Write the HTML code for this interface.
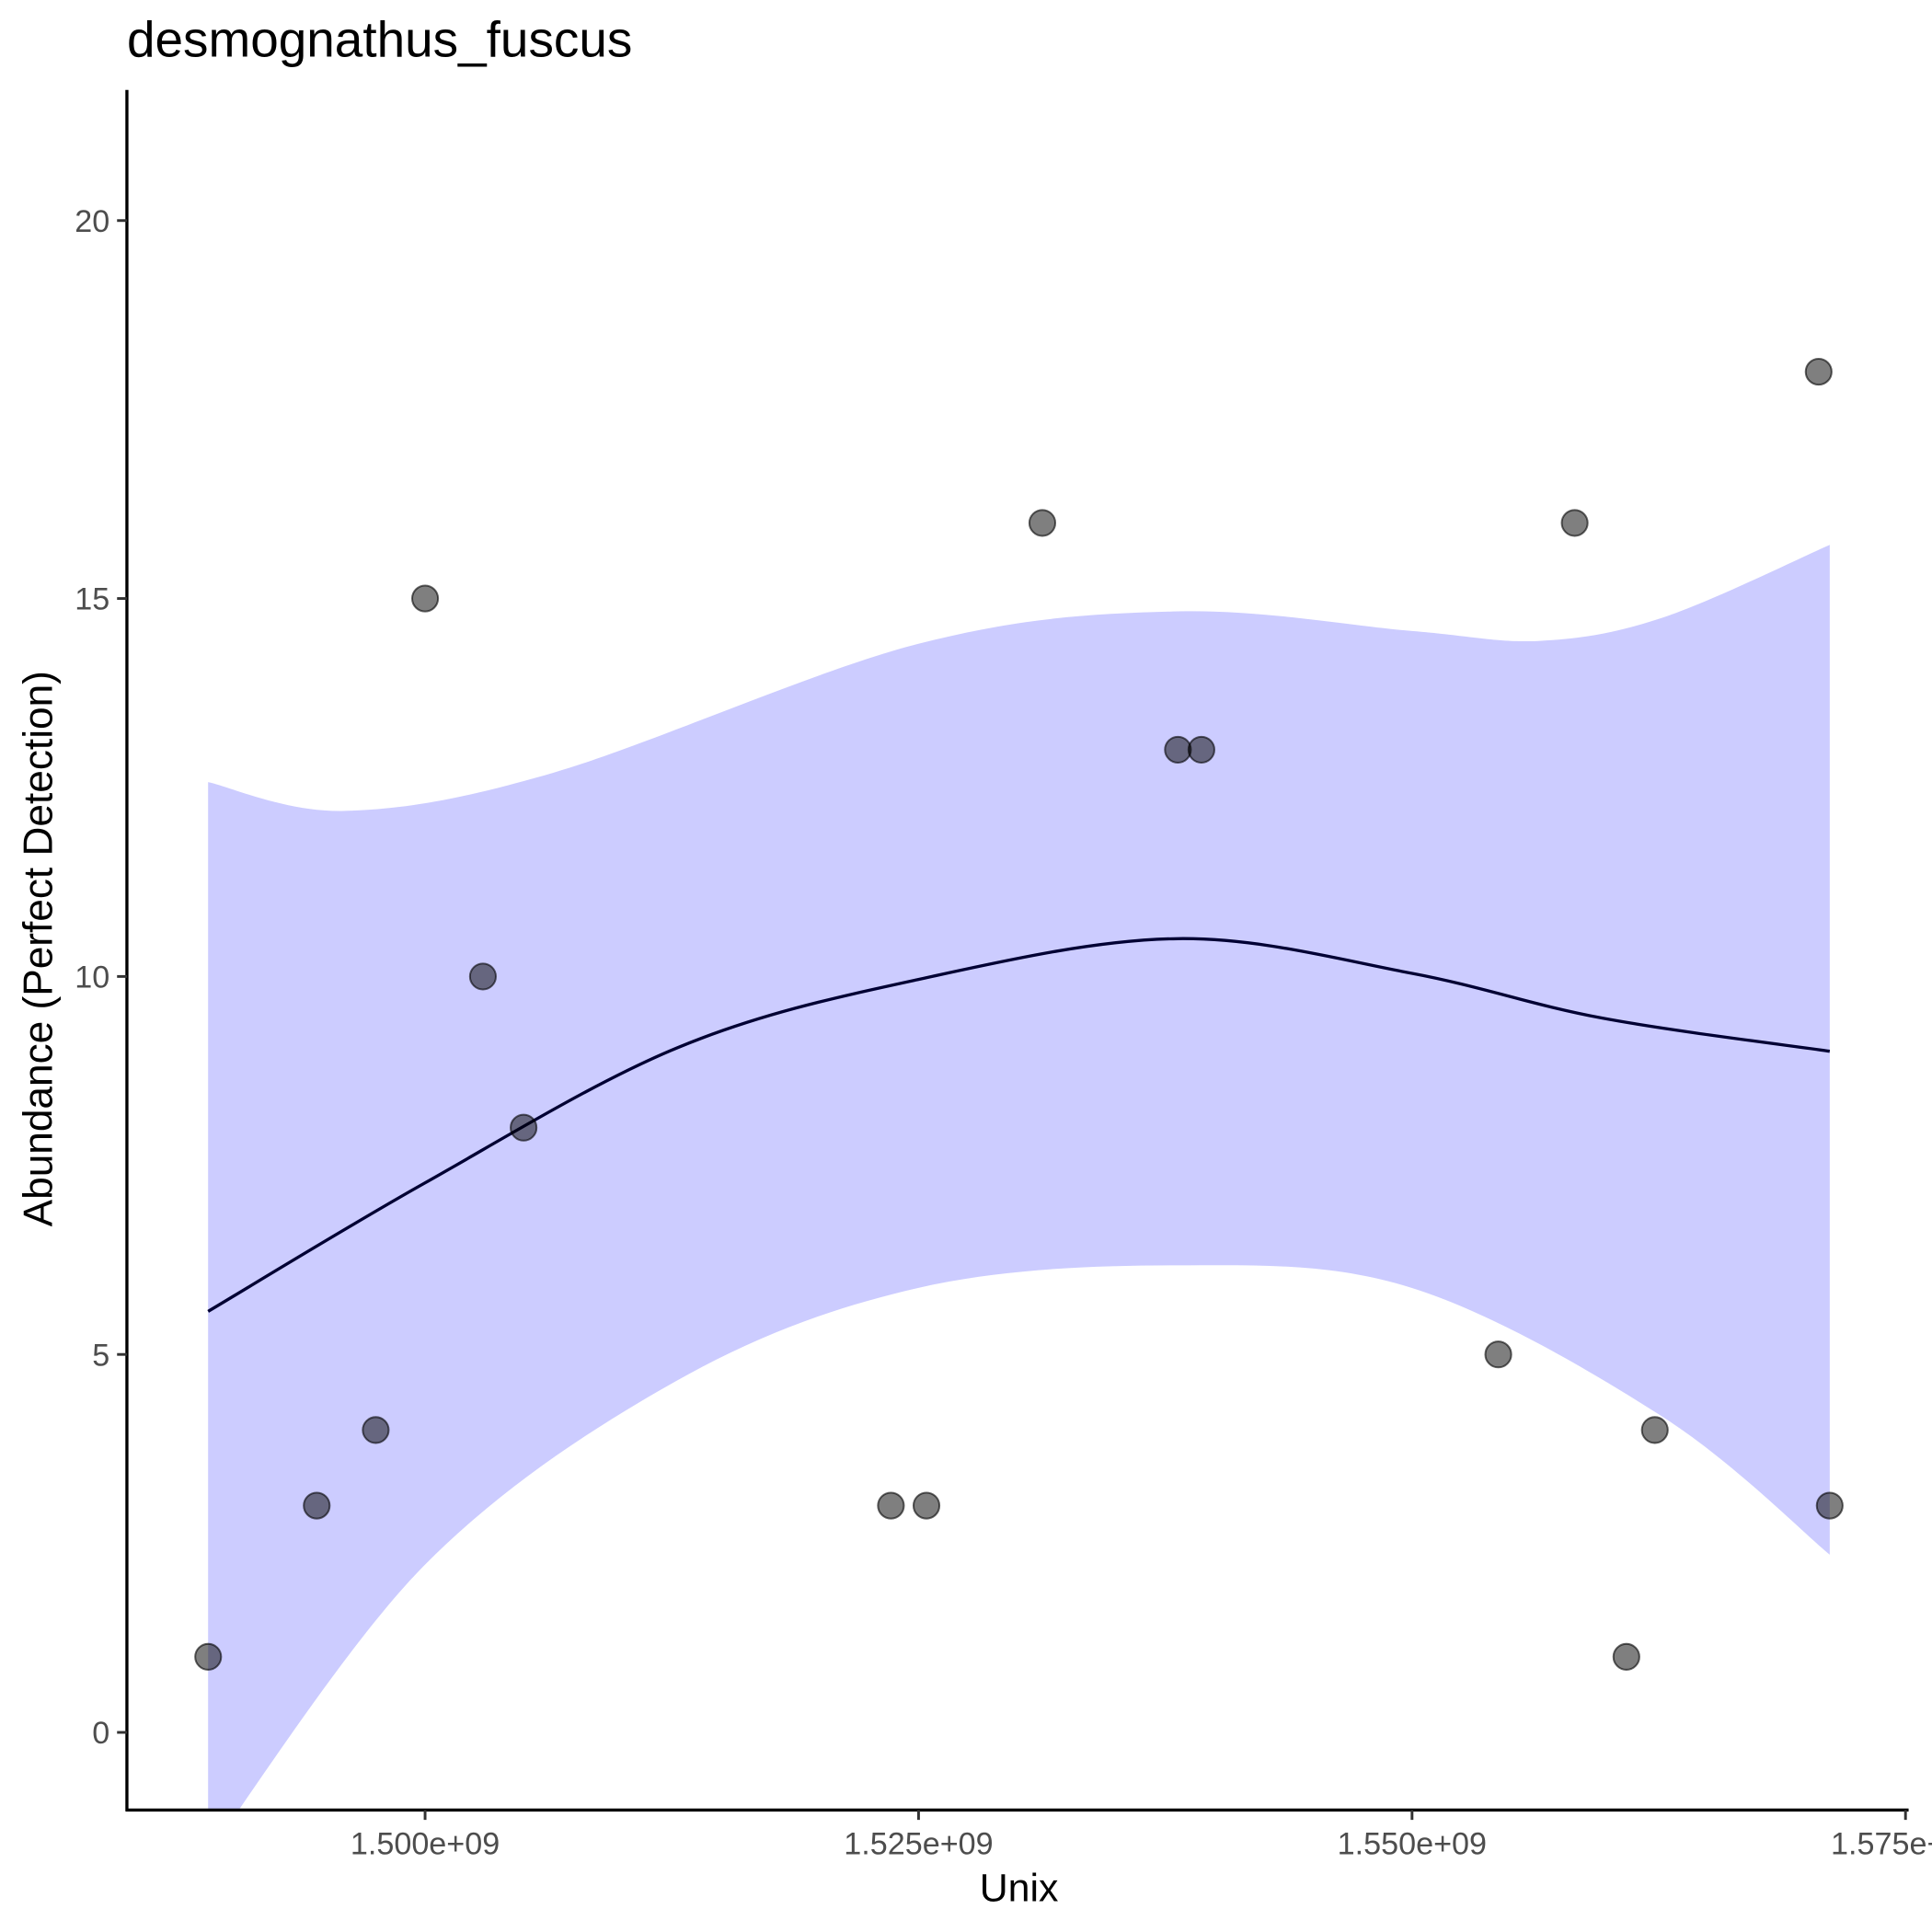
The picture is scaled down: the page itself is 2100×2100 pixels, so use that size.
<!DOCTYPE html>
<html><head><meta charset="utf-8"><style>
html,body{margin:0;padding:0;background:#fff}
svg{display:block}
text{font-family:"Liberation Sans",sans-serif}
</style></head><body>
<svg id="chart" width="2100" height="2100" viewBox="0 0 1568 1568" xmlns="http://www.w3.org/2000/svg">
<defs><clipPath id="pc"><rect x="103" y="75" width="1445" height="1394"/></clipPath></defs>
<text x="103" y="46" font-size="41" fill="#000">desmognathus_fuscus</text>
<g id="ribbon-g" clip-path="url(#pc)"></g>
<g id="line-g" clip-path="url(#pc)"></g>
<g id="pts-g"></g>
<g id="axes-g"></g>
<text x="827" y="1543" font-size="32" text-anchor="middle" fill="#000">Unix</text>
<text transform="translate(42,770) rotate(-90)" font-size="33" text-anchor="middle" fill="#000">Abundance (Perfect Detection)</text>
</svg>
<script>
const pointX=[1.48901e9,1.49451e9,1.4975e9,1.5e9,1.50293e9,1.50499e9,1.5236e9,1.5254e9,1.53127e9,1.53814e9,1.53933e9,1.55437e9,1.55824e9,1.56086e9,1.5623e9,1.5706e9,1.57116e9];
const pointY=[1,3,4,15,10,8,3,3,16,13,13,5,16,1,4,18,3];
const fitX=[1.48901e9,1.5e9,1.5128e9,1.52497e9,1.53814e9,1.55e9,1.55961e9,1.57116e9];
const fitY=[5.57,7.27,9.06,9.96,10.5,10.04,9.45,9.01];
const upperX=[1.48901e9,1.49594e9,1.50655e9,1.52497e9,1.53814e9,1.55e9,1.55649e9,1.56273e9,1.57116e9];
const fitUpper=[12.57,12.19,12.7,14.4,14.83,14.57,14.44,14.75,15.71];
const lowerX=[1.48901e9,1.5e9,1.5128e9,1.52497e9,1.53814e9,1.55e9,1.56273e9,1.57116e9];
const fitLower=[-1.6,2.22,4.66,5.88,6.18,5.88,4.17,2.35];
const xTicks=[1.5e9,1.525e9,1.55e9,1.575e9];
const xTickLabels=["1.500e+09","1.525e+09","1.550e+09","1.575e+09"];
const yTicks=[0,5,10,15,20];
const yTickLabels=["0","5","10","15","20"];
const NS="http://www.w3.org/2000/svg";
const sx=v=>345+(v-1.5e9)/25e6*400.5;
const sy=v=>1406-v*61.35;
function mk(tag,attrs,parent){const e=document.createElementNS(NS,tag);for(const k in attrs)e.setAttribute(k,attrs[k]);parent.appendChild(e);return e;}
function curve(xs,ys,start){
 const P=xs.map((x,i)=>[sx(x),sy(ys[i])]);
 let d=(start?"M":"L")+P[0][0].toFixed(1)+","+P[0][1].toFixed(1);
 for(let i=0;i<P.length-1;i++){
  const p0=P[Math.max(i-1,0)],p1=P[i],p2=P[i+1],p3=P[Math.min(i+2,P.length-1)];
  const c1=[p1[0]+(p2[0]-p0[0])/6,p1[1]+(p2[1]-p0[1])/6];
  const c2=[p2[0]-(p3[0]-p1[0])/6,p2[1]-(p3[1]-p1[1])/6];
  d+="C"+c1[0].toFixed(1)+","+c1[1].toFixed(1)+" "+c2[0].toFixed(1)+","+c2[1].toFixed(1)+" "+p2[0].toFixed(1)+","+p2[1].toFixed(1);
 }
 return d;
}
let rd=curve(upperX,fitUpper,true);
rd+=curve(lowerX.slice().reverse(),fitLower.slice().reverse(),false)+"Z";
const rib=mk("path",{d:rd,fill:"#ccccff",stroke:"none"},document.getElementById("ribbon-g"));


const ln=mk("path",{d:curve(fitX,fitY,true),fill:"none",stroke:"#000033","stroke-width":2.5},document.getElementById("line-g"));


const pg=document.getElementById("pts-g");
for(let i=0;i<pointX.length;i++){
 const c=mk("circle",{cx:sx(pointX[i]),cy:sy(pointY[i]),r:10.5,fill:"rgba(0,0,0,0.5)",stroke:"rgba(0,0,0,0.6)","stroke-width":1.5},pg);
 
 
}
const ag=document.getElementById("axes-g");
const ya=mk("line",{x1:103,y1:73,x2:103,y2:1470,stroke:"#000","stroke-width":2.5},ag);


const xa=mk("line",{x1:102,y1:1469,x2:1549,y2:1469,stroke:"#000","stroke-width":2.5},ag);


yTicks.forEach((v,i)=>{
 const t=mk("line",{x1:95,y1:sy(v),x2:103,y2:sy(v),stroke:"#333","stroke-width":2.2},ag);
 
 
 const l=mk("text",{x:89,y:sy(v)+9,"font-size":25.5,fill:"#4d4d4d","text-anchor":"end"},ag);
 l.textContent=yTickLabels[i];
 
 
});
xTicks.forEach((v,i)=>{
 const t=mk("line",{x1:sx(v),y1:1469,x2:sx(v),y2:1477,stroke:"#333","stroke-width":2.2},ag);
 
 
 const l=mk("text",{x:sx(v),y:1505,"font-size":25.5,fill:"#4d4d4d","text-anchor":"middle"},ag);
 l.textContent=xTickLabels[i];
 
 
});
</script>
</body></html>
